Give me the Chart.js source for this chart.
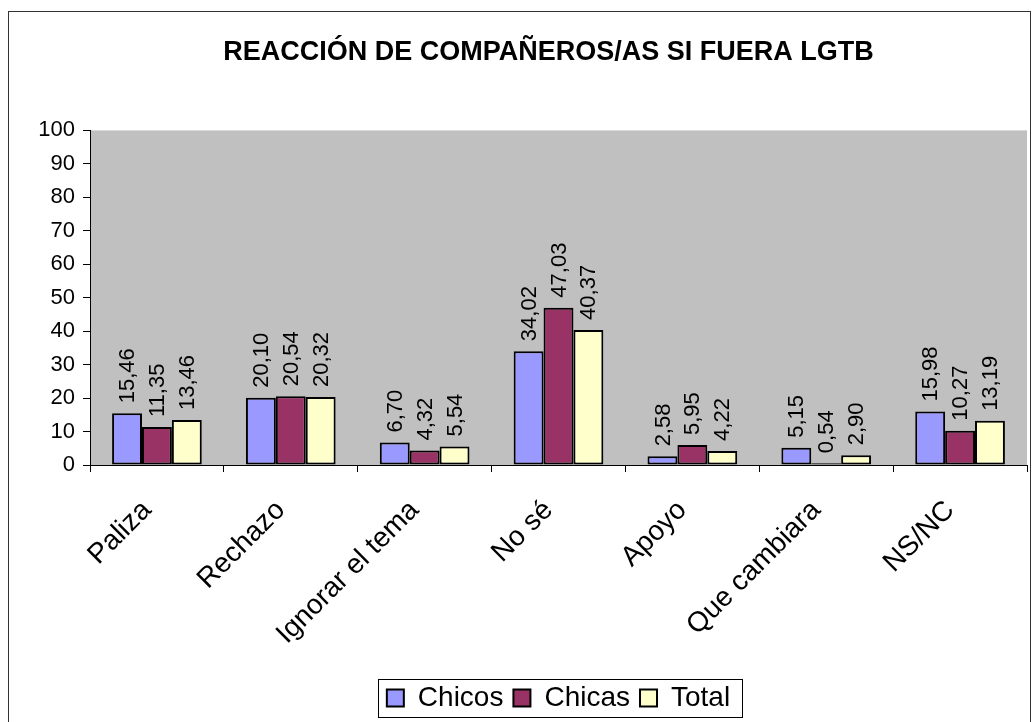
<!DOCTYPE html>
<html>
<head>
<meta charset="utf-8">
<script src="https://cdn.jsdelivr.net/npm/chart.js@4/dist/chart.umd.min.js"></script>
<style>
  html, body { margin: 0; padding: 0; background: #fff; }
  #wrap { width: 1033px; height: 722px; position: relative; }
</style>
</head>
<body>
<div id="wrap"><canvas id="chart"></canvas></div>
<script>
// Data
const categories = ['Paliza', 'Rechazo', 'Ignorar el tema', 'No sé', 'Apoyo', 'Que cambiara', 'NS/NC'];
const chicos = [15.46, 20.10, 6.70, 34.02, 2.58, 5.15, 15.98];
const chicas = [11.35, 20.54, 4.32, 47.03, 5.95, 0.54, 10.27];
const total = [13.46, 20.32, 5.54, 40.37, 4.22, 2.90, 13.19];
const yMin = 0, yMax = 100, yStep = 10;

const FONT = 'Arial, "Liberation Sans", sans-serif';

// Gray plot area, outer frame, legend box, shifted title/legend
const frame = {
    id: 'frame',
    afterLayout(chart) {
        // Excel centres title and legend over the plot, not the page
        chart.titleBlock.left += 31; chart.titleBlock.right += 31;
        chart.legend.left += 41; chart.legend.right += 41;
    },
    beforeDraw(chart) {
        const ctx = chart.ctx, a = chart.chartArea;
        ctx.save();
        ctx.fillStyle = '#fff';
        ctx.fillRect(0, 0, chart.width, chart.height);
        ctx.strokeStyle = '#333';
        ctx.lineWidth = 1;
        ctx.strokeRect(8.5, 11.5, 1022, 720);
        ctx.fillStyle = '#C0C0C0';
        ctx.fillRect(a.left, a.top, a.right - a.left, a.bottom - a.top);
        ctx.restore();
    },
    afterDraw(chart) {
        const boxes = chart.legend.legendHitBoxes;
        if (!boxes || !boxes.length) return;
        const ctx = chart.ctx;
        let l = Infinity, r = -Infinity, t = Infinity, b = -Infinity;
        boxes.forEach(h => {
            l = Math.min(l, h.left); r = Math.max(r, h.left + h.width);
            t = Math.min(t, h.top); b = Math.max(b, h.top + h.height);
        });
        ctx.save();
        ctx.strokeStyle = '#000';
        ctx.lineWidth = 1;
        ctx.strokeRect(Math.round(l - 9) + 0.5, Math.round(t - 5) + 0.5, Math.round(r - l + 21), Math.round(b - t + 10));
        ctx.restore();
    }
};

// Vertical value labels above each bar
const valueLabels = {
    id: 'valueLabels',
    afterDatasetsDraw(chart) {
        const ctx = chart.ctx;
        ctx.save();
        ctx.font = '22px ' + FONT;
        ctx.fillStyle = '#000';
        ctx.textAlign = 'left';
        ctx.textBaseline = 'middle';
        chart.data.datasets.forEach((ds, i) => {
            chart.getDatasetMeta(i).data.forEach((bar, j) => {
                ctx.save();
                ctx.translate(bar.x + 1, bar.y - 10);
                ctx.rotate(-Math.PI / 2);
                ctx.fillText(ds.data[j].toFixed(2).replace('.', ','), 0, 0);
                ctx.restore();
            });
        });
        ctx.restore();
    }
};

new Chart(document.getElementById('chart'), {
    type: 'bar',
    data: {
        labels: categories,
        datasets: [
            { label: 'Chicos', data: chicos, backgroundColor: '#9999FF', borderColor: '#000', borderWidth: 2 },
            { label: 'Chicas', data: chicas, backgroundColor: '#993366', borderColor: '#000', borderWidth: 2 },
            { label: 'Total', data: total, backgroundColor: '#FFFFCC', borderColor: '#000', borderWidth: 2 }
        ]
    },
    options: {
        responsive: true,
        maintainAspectRatio: false,
        animation: false,
        datasets: { bar: { categoryPercentage: 0.67, barPercentage: 1, borderSkipped: false } },
        layout: { padding: { left: 8, right: 6, top: 12, bottom: 0 } },
        plugins: {
            title: {
                display: true,
                text: 'REACCIÓN DE COMPAÑEROS/AS SI FUERA LGTB',
                color: '#000',
                font: { family: FONT, size: 27, weight: 'bold' },
                padding: { top: 24, bottom: 62 }
            },
            legend: {
                position: 'bottom',
                labels: {
                    color: '#000',
                    font: { family: FONT, size: 28 },
                    boxWidth: 17,
                    boxHeight: 17,
                    padding: 10
                }
            },
            tooltip: { enabled: false }
        },
        scales: {
            y: {
                min: yMin,
                max: yMax,
                afterFit(scale) { scale.width = 82; },
                grid: { drawOnChartArea: false, color: '#000', tickLength: 7, tickWidth: 1 },
                border: { color: '#000', width: 1 },
                ticks: { stepSize: yStep, color: '#000', font: { family: FONT, size: 22 }, padding: 8 }
            },
            x: {
                afterFit(scale) { scale.height = 209; },
                grid: { offset: true, drawOnChartArea: false, color: '#000', tickLength: 7 },
                border: { color: '#000', width: 1 },
                ticks: { color: '#000', font: { family: FONT, size: 28 }, maxRotation: 45, minRotation: 45, padding: 22, labelOffset: -10 }
            }
        }
    },
    plugins: [frame, valueLabels]
});
</script>
</body>
</html>
